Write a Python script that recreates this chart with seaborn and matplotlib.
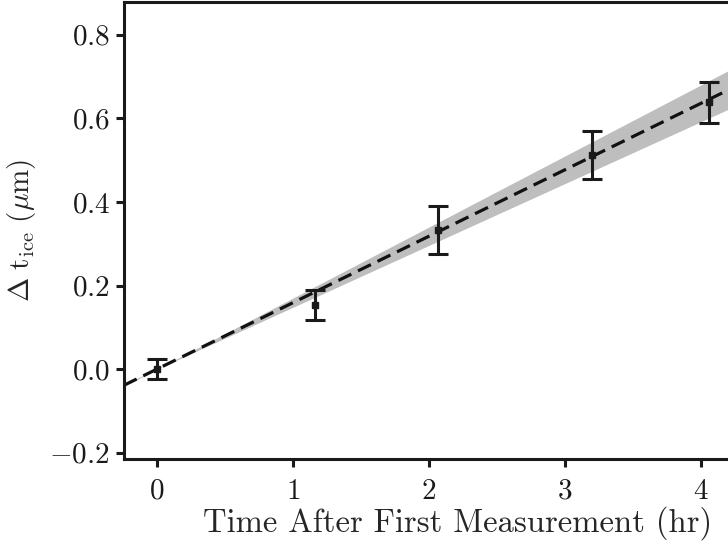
import numpy as np
import pandas as pd
import matplotlib
matplotlib.use("Agg")
import matplotlib.pyplot as plt
import seaborn as sns

time_hr = [0.0, 1.16, 2.07, 3.20, 4.06]
dt_ice = [0.000, 0.153, 0.333, 0.513, 0.638]
dt_err = [0.024, 0.036, 0.058, 0.057, 0.049]

# fit through the origin: slope and its uncertainty
fit_slope = 0.159
fit_slope_err = 0.011

sns.set_theme(style="ticks")
plt.rcParams.update({
    "font.family": "serif",
    "font.serif": ["cmr10", "DejaVu Serif"],
    "mathtext.fontset": "cm",
    "axes.formatter.use_mathtext": True,
    "axes.unicode_minus": True,
    "font.size": 21,
    "axes.linewidth": 2.2,
    "axes.edgecolor": "#1a1a1a",
    "xtick.major.width": 2.2,
    "ytick.major.width": 2.2,
    "xtick.major.size": 6,
    "ytick.major.size": 6,
    "xtick.major.pad": 8,
    "ytick.major.pad": 4,
    "xtick.color": "#1a1a1a",
    "ytick.color": "#1a1a1a",
    "xtick.labelsize": 21,
    "ytick.labelsize": 21,
})

df = pd.DataFrame({"time": time_hr, "dt": dt_ice, "err": dt_err})

fig = plt.figure(figsize=(7.28, 5.42), dpi=100)
# axes runs past the right edge, as in the cropped original
ax = fig.add_axes([0.170, 0.153, 0.918, 0.843])
xlim = (-0.243, 4.67)

xs = np.linspace(xlim[0], xlim[1], 200)
ax.fill_between(xs, (fit_slope - fit_slope_err) * xs, (fit_slope + fit_slope_err) * xs,
                color="#bebebf", lw=0, zorder=1)
fit_df = pd.DataFrame({"x": xs, "y": fit_slope * xs})
sns.lineplot(data=fit_df, x="x", y="y", ax=ax, color="#111111", lw=2.3,
             dashes=False, zorder=2)
ax.lines[-1].set_dashes((4.5, 2.3))

ax.errorbar(df["time"], df["dt"], yerr=df["err"], fmt="s", color="#1a1a1a",
            ms=4.5, elinewidth=2.2, capsize=7, capthick=2.2, zorder=3)

ax.set_xlim(*xlim)
ax.set_ylim(-0.215, 0.878)
ax.set_xticks([0, 1, 2, 3, 4])
ax.set_yticks([-0.2, 0.0, 0.2, 0.4, 0.6, 0.8])
ax.set_xlabel("Time After First Measurement (hr)", fontsize=23.5, labelpad=1)
ax.set_ylabel(r"$\Delta\ \mathrm{t_{ice}}\ (\mu\mathrm{m})$", fontsize=21, labelpad=8)
for s in ax.spines.values():
    s.set_visible(True)

fig.savefig("out.png", dpi=100)
